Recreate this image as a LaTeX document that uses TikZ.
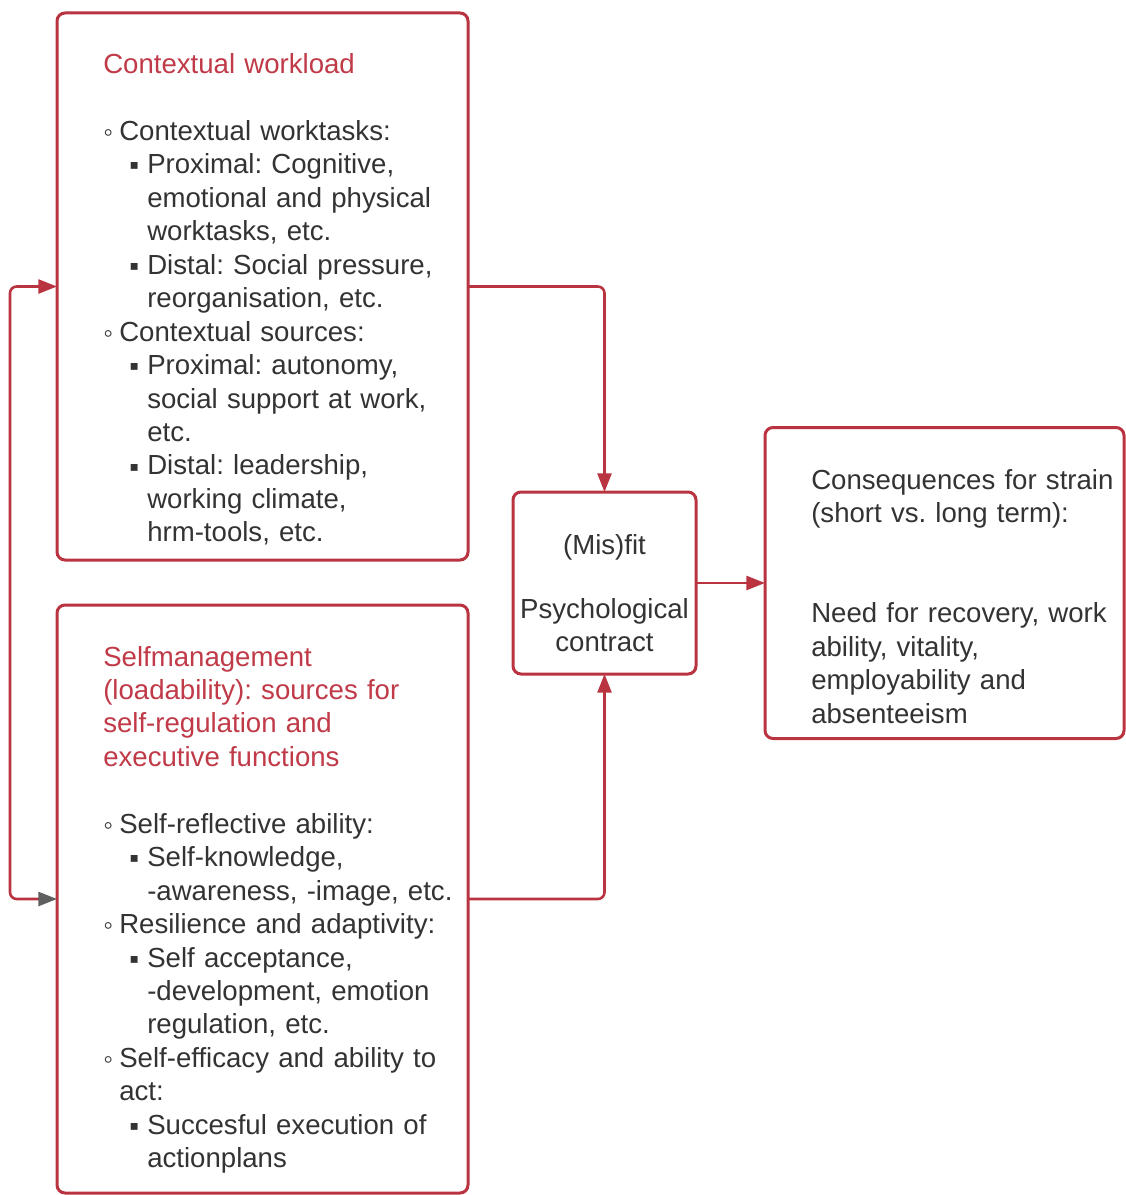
\documentclass[tikz,border=0pt]{standalone}
\usepackage{fontspec}
\setmainfont{Liberation Sans}
\usepackage{graphicx}
\usetikzlibrary{arrows.meta}
\frenchspacing
\definecolor{boxred}{RGB}{185,52,64}
\definecolor{titlered}{RGB}{192,58,72}
\definecolor{txt}{RGB}{51,51,51}
\definecolor{arrgray}{RGB}{95,95,95}
\newcommand\wbul{\raisebox{-0.04em}{◦}}
\newcommand\sbul{\raisebox{-0.04em}{▪}}
\newcommand\lvA[1]{\makebox[12pt][l]{\wbul}#1}
\newcommand\lvB[1]{\hspace*{19.5pt}\makebox[13.5pt][l]{\sbul}#1}
\newcommand\cnA[1]{\hspace*{12pt}#1}
\newcommand\cnB[1]{\hspace*{33pt}#1}
\tikzset{
 box/.style={draw=boxred, line width=2.25pt, rounded corners=6pt, inner sep=0pt, outer sep=0pt},
 conn/.style={draw=boxred, line width=1.9pt, rounded corners=5pt, -{Triangle[length=14pt,width=10.5pt]}},
 body/.style={text=txt, font=\fontsize{20.7pt}{25.09pt}\selectfont, inner sep=0pt, align=left, anchor=base west},
}
\begin{document}
\begin{tikzpicture}[x=0.75pt,y=-0.75pt]
\useasboundingbox[fill=white] (0,0) rectangle (1126,1195);
\node[box, minimum width=411*0.75pt, minimum height=547*0.75pt] (A) at (262.5,286.5) {};
\node[box, minimum width=411*0.75pt, minimum height=588*0.75pt] (B) at (262.5,899) {};
\node[box, minimum width=183*0.75pt, minimum height=182*0.75pt] (C) at (604.5,583) {};
\node[box, minimum width=359*0.75pt, minimum height=311*0.75pt] (D) at (944.5,583) {};

\node[body, text width=280pt] (tA) at (103,73.5) {{\color{titlered}Contextual workload}\\
\mbox{}\\
\lvA{Contextual worktasks:}\\
\lvB{Proximal: Cognitive,}\\
\cnB{emotional and physical}\\
\cnB{worktasks, etc.}\\
\lvB{Distal: Social pressure,}\\
\cnB{reorganisation, etc.}\\
\lvA{Contextual sources:}\\
\lvB{Proximal: autonomy,}\\
\cnB{social support at work,}\\
\cnB{etc.}\\
\lvB{Distal: leadership,}\\
\cnB{working climate,}\\
\cnB{hrm-tools, etc.}};

\node[body, text width=280pt] (tB) at (103,666) {{\color{titlered}Selfmanagement\\
(loadability): sources for\\
self-regulation and\\
executive functions}\\
\mbox{}\\
\lvA{Self-reflective ability:}\\
\lvB{Self-knowledge,}\\
\cnB{-awareness, -image, etc.}\\
\lvA{Resilience and adaptivity:}\\
\lvB{Self acceptance,}\\
\cnB{-development, emotion}\\
\cnB{regulation, etc.}\\
\lvA{Self-efficacy and ability to}\\
\cnA{act:}\\
\lvB{Succesful execution of}\\
\cnB{actionplans}};

\node[body, text width=130pt, align=center, anchor=base] (tC) at (604.5,554) {(Mis)fit\\[23pt]Psychological\\contract};

\node[body, text width=245pt] (tD) at (811,489) {Consequences for strain\\
(short vs. long term):\\
\mbox{}\\
\mbox{}\\
Need for recovery, work\\
ability, vitality,\\
employability and\\
absenteeism};

\draw[conn] (A.east) -| (C.north);
\draw[conn] (B.east) -| (C.south);
\draw[conn] (C.east) -- (D.west);
\draw[conn, {Triangle[length=14pt,width=10.5pt]}-{Triangle[length=14pt,width=10.5pt,color=arrgray]}] (A.west) -- ++(-47,0) |- (B.west);
\end{tikzpicture}
\end{document}
